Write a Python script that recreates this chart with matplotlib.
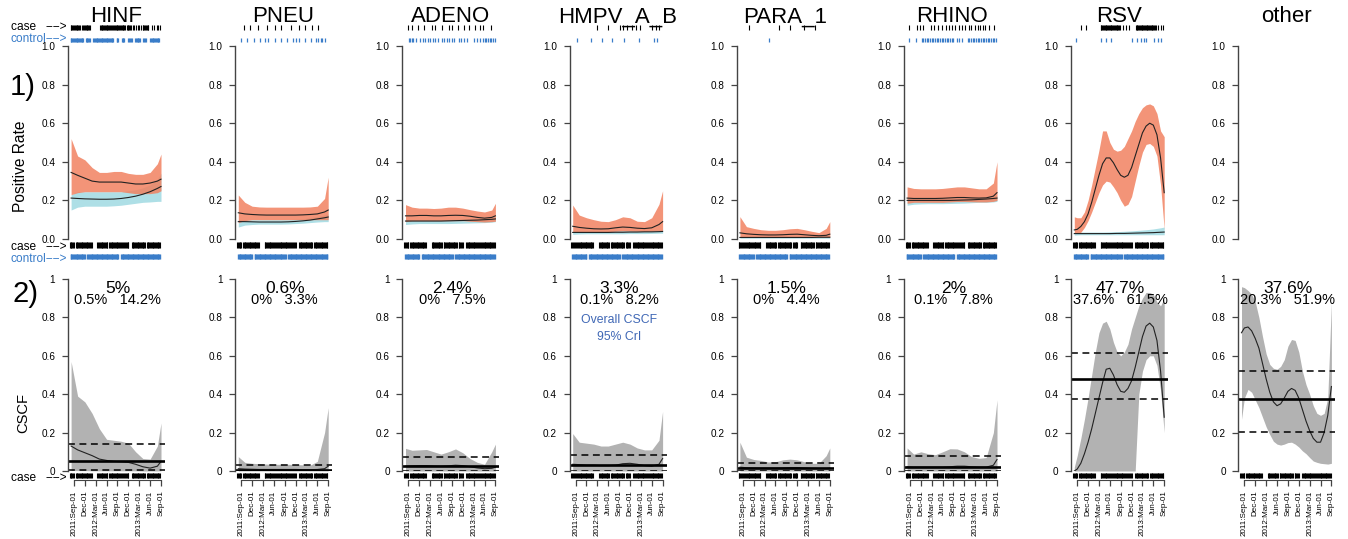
import matplotlib
matplotlib.use("Agg")
import matplotlib.pyplot as plt
from matplotlib.transforms import blended_transform_factory

plt.rcParams['font.family'] = ['Liberation Sans', 'DejaVu Sans']

#----------------------- data -----------------------#

names = ["HINF", "PNEU", "ADENO", "HMPV_A_B", "PARA_1", "RHINO", "RSV", "other"]

# months since 2011-Sep-01 (coarse grid, and a monthly grid for the wavy panels)
T = [-0.8, 1, 3, 5, 7, 9, 11, 13, 15, 17, 19, 21, 23, 24]
T_fine = [-0.8, 0, 1, 2, 3, 4, 5, 6, 7, 8, 9, 10, 11, 12, 13, 14, 15, 16, 17, 18, 19, 20, 21, 22, 23, 24]

date_ticks = [0, 3, 6, 9, 12, 15, 18, 21, 24]
date_labels = ["2011:Sep-01", "Dec-01", "2012:Mar-01", "Jun-01", "Sep-01",
               "Dec-01", "2013:Mar-01", "Jun-01", "Sep-01"]

# positive rate, cases
case_mid = {
    "HINF": [0.345, 0.33, 0.315, 0.30, 0.295, 0.295, 0.295, 0.295, 0.29, 0.285, 0.285, 0.29, 0.30, 0.31],
    "PNEU": [0.136, 0.13, 0.127, 0.125, 0.124, 0.124, 0.124, 0.124, 0.124, 0.125, 0.127, 0.13, 0.14, 0.15],
    "ADENO": [0.12, 0.12, 0.122, 0.122, 0.12, 0.12, 0.122, 0.123, 0.122, 0.118, 0.112, 0.108, 0.112, 0.12],
    "HMPV_A_B": [0.066, 0.06, 0.056, 0.053, 0.052, 0.053, 0.058, 0.062, 0.06, 0.056, 0.054, 0.058, 0.075, 0.09],
    "PARA_1": [0.032, 0.027, 0.024, 0.022, 0.021, 0.021, 0.022, 0.024, 0.025, 0.022, 0.019, 0.017, 0.019, 0.025],
    "RHINO": [0.212, 0.21, 0.21, 0.21, 0.21, 0.211, 0.213, 0.215, 0.215, 0.213, 0.212, 0.213, 0.222, 0.24],
    "RSV": [0.047, 0.05, 0.065, 0.09, 0.13, 0.19, 0.26, 0.33, 0.39, 0.42, 0.42, 0.395, 0.36,
            0.33, 0.32, 0.33, 0.37, 0.43, 0.49, 0.55, 0.585, 0.6, 0.59, 0.54, 0.42, 0.24],
}
case_lo = {
    "HINF": [0.23, 0.24, 0.245, 0.245, 0.245, 0.245, 0.245, 0.245, 0.24, 0.235, 0.235, 0.235, 0.24, 0.25],
    "PNEU": [0.085, 0.095, 0.1, 0.1, 0.1, 0.1, 0.1, 0.1, 0.1, 0.1, 0.1, 0.1, 0.1, 0.1],
    "ADENO": [0.09, 0.095, 0.095, 0.095, 0.095, 0.095, 0.095, 0.095, 0.095, 0.092, 0.09, 0.088, 0.09, 0.092],
    "HMPV_A_B": [0.035, 0.038, 0.038, 0.038, 0.038, 0.038, 0.04, 0.042, 0.041, 0.04, 0.039, 0.04, 0.043, 0.045],
    "PARA_1": [0.01, 0.012, 0.012, 0.012, 0.012, 0.012, 0.012, 0.013, 0.013, 0.012, 0.011, 0.01, 0.01, 0.01],
    "RHINO": [0.185, 0.19, 0.19, 0.19, 0.19, 0.19, 0.192, 0.194, 0.194, 0.193, 0.192, 0.192, 0.195, 0.2],
    "RSV": [0.03, 0.03, 0.035, 0.06, 0.095, 0.14, 0.19, 0.24, 0.28, 0.3, 0.295, 0.27, 0.24,
            0.2, 0.17, 0.18, 0.22, 0.3, 0.38, 0.45, 0.49, 0.495, 0.48, 0.43, 0.28, 0.05],
}
case_hi = {
    "HINF": [0.52, 0.43, 0.41, 0.37, 0.345, 0.345, 0.35, 0.35, 0.34, 0.335, 0.335, 0.345, 0.39, 0.44],
    "PNEU": [0.228, 0.19, 0.17, 0.166, 0.165, 0.165, 0.165, 0.165, 0.165, 0.165, 0.166, 0.17, 0.21, 0.32],
    "ADENO": [0.178, 0.165, 0.16, 0.16, 0.158, 0.16, 0.165, 0.165, 0.16, 0.152, 0.145, 0.14, 0.15, 0.185],
    "HMPV_A_B": [0.176, 0.124, 0.11, 0.1, 0.092, 0.09, 0.1, 0.115, 0.11, 0.092, 0.09, 0.11, 0.18, 0.25],
    "PARA_1": [0.116, 0.064, 0.055, 0.048, 0.045, 0.045, 0.048, 0.053, 0.055, 0.048, 0.04, 0.033, 0.055, 0.09],
    "RHINO": [0.27, 0.262, 0.26, 0.26, 0.26, 0.262, 0.266, 0.27, 0.27, 0.265, 0.26, 0.26, 0.29, 0.4],
    "RSV": [0.115, 0.11, 0.11, 0.14, 0.2, 0.28, 0.37, 0.46, 0.56, 0.56, 0.5, 0.465, 0.455,
            0.46, 0.48, 0.52, 0.56, 0.61, 0.65, 0.68, 0.695, 0.7, 0.69, 0.65, 0.56, 0.53],
}

# positive rate, controls
ctrl_mid = {
    "HINF": [0.212, 0.21, 0.208, 0.207, 0.206, 0.206, 0.207, 0.21, 0.215, 0.222, 0.232, 0.245, 0.262, 0.272],
    "PNEU": [0.09, 0.09, 0.089, 0.088, 0.088, 0.088, 0.088, 0.089, 0.091, 0.094, 0.098, 0.104, 0.11, 0.114],
    "ADENO": [0.093, 0.093, 0.093, 0.093, 0.093, 0.093, 0.094, 0.095, 0.096, 0.097, 0.098, 0.1, 0.102, 0.104],
    "HMPV_A_B": [0.034, 0.034, 0.034, 0.034, 0.034, 0.034, 0.035, 0.035, 0.036, 0.036, 0.037, 0.037, 0.038, 0.039],
    "PARA_1": [0.008, 0.008, 0.008, 0.008, 0.008, 0.008, 0.008, 0.008, 0.008, 0.008, 0.008, 0.009, 0.009, 0.009],
    "RHINO": [0.2, 0.2, 0.2, 0.2, 0.2, 0.2, 0.2, 0.201, 0.202, 0.203, 0.205, 0.207, 0.21, 0.212],
    "RSV": [0.028, 0.028, 0.028, 0.028, 0.028, 0.028, 0.029, 0.029, 0.03, 0.031, 0.032, 0.033, 0.035, 0.036],
}
ctrl_lo = {
    "HINF": [0.15, 0.165, 0.17, 0.17, 0.17, 0.17, 0.172, 0.175, 0.18, 0.185, 0.19, 0.192, 0.195, 0.195],
    "PNEU": [0.062, 0.072, 0.075, 0.077, 0.077, 0.077, 0.077, 0.078, 0.08, 0.082, 0.085, 0.088, 0.09, 0.09],
    "ADENO": [0.075, 0.078, 0.08, 0.08, 0.08, 0.08, 0.08, 0.081, 0.082, 0.083, 0.084, 0.085, 0.087, 0.09],
    "HMPV_A_B": [0.024, 0.026, 0.027, 0.027, 0.027, 0.027, 0.027, 0.027, 0.028, 0.028, 0.028, 0.029, 0.03, 0.03],
    "PARA_1": [0.004, 0.004, 0.004, 0.004, 0.004, 0.004, 0.004, 0.004, 0.004, 0.004, 0.004, 0.004, 0.004, 0.004],
    "RHINO": [0.175, 0.18, 0.182, 0.183, 0.183, 0.183, 0.184, 0.185, 0.186, 0.188, 0.19, 0.19, 0.192, 0.195],
    "RSV": [0.02, 0.022, 0.022, 0.022, 0.022, 0.022, 0.022, 0.022, 0.022, 0.022, 0.022, 0.022, 0.022, 0.022],
}
ctrl_hi = {
    "HINF": [0.23, 0.245, 0.245, 0.245, 0.245, 0.245, 0.245, 0.245, 0.25, 0.255, 0.265, 0.28, 0.31, 0.34],
    "PNEU": [0.1, 0.1, 0.1, 0.1, 0.1, 0.1, 0.1, 0.1, 0.102, 0.105, 0.11, 0.117, 0.125, 0.13],
    "ADENO": [0.1, 0.1, 0.1, 0.1, 0.1, 0.1, 0.1, 0.102, 0.104, 0.106, 0.108, 0.11, 0.112, 0.115],
    "HMPV_A_B": [0.044, 0.043, 0.043, 0.043, 0.043, 0.043, 0.043, 0.044, 0.044, 0.045, 0.046, 0.047, 0.048, 0.05],
    "PARA_1": [0.013, 0.013, 0.013, 0.013, 0.013, 0.013, 0.013, 0.013, 0.013, 0.014, 0.014, 0.015, 0.016, 0.017],
    "RHINO": [0.21, 0.21, 0.21, 0.21, 0.21, 0.21, 0.21, 0.211, 0.212, 0.214, 0.216, 0.218, 0.222, 0.225],
    "RSV": [0.035, 0.036, 0.036, 0.036, 0.036, 0.037, 0.038, 0.04, 0.042, 0.045, 0.048, 0.052, 0.058, 0.062],
}

# case-specific causal fraction over time
cscf_mid = {
    "HINF": [0.13, 0.11, 0.095, 0.08, 0.062, 0.055, 0.05, 0.048, 0.045, 0.035, 0.022, 0.015, 0.025, 0.05],
    "PNEU": [0.012, 0.01, 0.009, 0.008, 0.008, 0.008, 0.008, 0.008, 0.008, 0.007, 0.007, 0.008, 0.012, 0.025],
    "ADENO": [0.025, 0.027, 0.028, 0.028, 0.026, 0.025, 0.027, 0.03, 0.028, 0.022, 0.016, 0.012, 0.014, 0.02],
    "HMPV_A_B": [0.035, 0.033, 0.03, 0.03, 0.028, 0.028, 0.03, 0.038, 0.04, 0.035, 0.028, 0.025, 0.035, 0.065],
    "PARA_1": [0.02, 0.017, 0.016, 0.015, 0.015, 0.015, 0.016, 0.018, 0.018, 0.016, 0.014, 0.013, 0.013, 0.015],
    "RHINO": [0.022, 0.02, 0.02, 0.02, 0.02, 0.02, 0.022, 0.025, 0.025, 0.022, 0.02, 0.02, 0.03, 0.06],
    "RSV": [0.0, 0.01, 0.04, 0.09, 0.15, 0.22, 0.3, 0.38, 0.46, 0.53, 0.535, 0.5, 0.45,
            0.415, 0.41, 0.43, 0.47, 0.54, 0.62, 0.7, 0.755, 0.77, 0.75, 0.68, 0.52, 0.28],
    "other": [0.72, 0.745, 0.75, 0.73, 0.69, 0.64, 0.56, 0.48, 0.41, 0.36, 0.34, 0.35, 0.38,
              0.415, 0.43, 0.42, 0.38, 0.32, 0.26, 0.21, 0.17, 0.15, 0.15, 0.2, 0.29, 0.44],
}
cscf_lo = {
    "HINF": [0.003, 0.002, 0.002, 0.001, 0.001, 0.001, 0.001, 0.001, 0.001, 0.001, 0.0, 0.0, 0.0, 0.001],
    "PNEU": [0.0, 0.0, 0.0, 0.0, 0.0, 0.0, 0.0, 0.0, 0.0, 0.0, 0.0, 0.0, 0.0, 0.0],
    "ADENO": [0.0, 0.0, 0.0, 0.0, 0.0, 0.0, 0.0, 0.0, 0.0, 0.0, 0.0, 0.0, 0.0, 0.0],
    "HMPV_A_B": [0.0, 0.0, 0.0, 0.0, 0.0, 0.0, 0.0, 0.0, 0.0, 0.0, 0.0, 0.0, 0.0, 0.0],
    "PARA_1": [0.0, 0.0, 0.0, 0.0, 0.0, 0.0, 0.0, 0.0, 0.0, 0.0, 0.0, 0.0, 0.0, 0.0],
    "RHINO": [0.0, 0.0, 0.0, 0.0, 0.0, 0.0, 0.0, 0.0, 0.0, 0.0, 0.0, 0.0, 0.0, 0.0],
    "RSV": [0.0, 0.0, 0.0, 0.0, 0.0, 0.0, 0.0, 0.0, 0.0, 0.0, 0.0, 0.0, 0.0,
            0.0, 0.0, 0.0, 0.0, 0.0, 0.4, 0.52, 0.58, 0.6, 0.6, 0.55, 0.42, 0.2],
    "other": [0.27, 0.38, 0.425, 0.41, 0.37, 0.33, 0.28, 0.23, 0.19, 0.155, 0.14, 0.135, 0.14,
              0.148, 0.15, 0.14, 0.125, 0.105, 0.09, 0.07, 0.052, 0.045, 0.04, 0.038, 0.036, 0.04],
}
cscf_hi = {
    "HINF": [0.57, 0.39, 0.36, 0.30, 0.22, 0.165, 0.16, 0.155, 0.145, 0.1, 0.065, 0.062, 0.13, 0.25],
    "PNEU": [0.075, 0.045, 0.04, 0.038, 0.036, 0.035, 0.035, 0.035, 0.034, 0.032, 0.03, 0.05, 0.2, 0.33],
    "ADENO": [0.118, 0.108, 0.11, 0.112, 0.1, 0.088, 0.1, 0.115, 0.095, 0.065, 0.045, 0.035, 0.1, 0.14],
    "HMPV_A_B": [0.195, 0.15, 0.145, 0.14, 0.13, 0.13, 0.14, 0.15, 0.14, 0.12, 0.11, 0.11, 0.16, 0.31],
    "PARA_1": [0.15, 0.072, 0.06, 0.055, 0.047, 0.048, 0.058, 0.062, 0.058, 0.048, 0.04, 0.04, 0.08, 0.12],
    "RHINO": [0.12, 0.088, 0.1, 0.09, 0.085, 0.1, 0.116, 0.115, 0.1, 0.075, 0.066, 0.07, 0.2, 0.37],
    "RSV": [0.02, 0.08, 0.17, 0.27, 0.38, 0.5, 0.62, 0.72, 0.77, 0.78, 0.74, 0.67, 0.62,
            0.6, 0.62, 0.66, 0.74, 0.8, 0.86, 0.9, 0.93, 0.93, 0.92, 0.88, 0.86, 0.9],
    "other": [0.96, 0.955, 0.94, 0.92, 0.88, 0.8, 0.7, 0.61, 0.555, 0.535, 0.53, 0.545, 0.58,
              0.65, 0.685, 0.68, 0.62, 0.52, 0.45, 0.4, 0.34, 0.3, 0.29, 0.3, 0.38, 0.88],
}

# overall CSCF and 95% CrI
overall_mid = [0.05, 0.006, 0.024, 0.033, 0.015, 0.02, 0.477, 0.376]
overall_lo = [0.005, 0.0, 0.0, 0.001, 0.0, 0.001, 0.376, 0.203]
overall_hi = [0.142, 0.033, 0.075, 0.082, 0.044, 0.078, 0.615, 0.519]


def span(a, b, step=1):
    return list(range(a, b + 1, step))


# sampling weeks (weeks since 2011-Sep-01) for the rugs
case_all_weeks = span(-5, 0) + span(2, 21) + span(28, 40) + span(42, 58) + span(60, 65) + span(69, 85) + span(87, 103)
ctrl_all_weeks = span(-4, 13) + span(16, 53) + span(56, 103)

case_pos_weeks = {
    "HINF": span(-4, 7) + span(10, 19) + span(31, 45) + span(47, 61) + span(63, 68) + span(70, 80, 2) + span(82, 89) + [93, 96, 99, 101, 103],
    "PNEU": [3, 11, 20, 31, 40, 48, 59, 69, 76, 85, 92],
    "ADENO": [0, 4, 12, 19, 28, 32, 40, 49, 52, 59, 66, 73, 80, 85, 89, 99],
    "HMPV_A_B": [25, 39, 53, 57, 62, 67, 72, 77, 91, 96, 100],
    "PARA_1": [7, 43, 57, 73, 86],
    "RHINO": [-1, 8, 12, 16, 25, 29, 34, 38, 43, 47, 50, 54, 58, 62, 66, 70, 73, 78, 81, 84, 87, 90, 95, 101],
    "RSV": [4, 10] + span(28, 51) + [55, 58, 62] + span(70, 94) + [97, 100, 103],
}
ctrl_pos_weeks = {
    "HINF": span(-4, 11) + span(14, 19) + span(23, 47) + span(51, 53) + span(57, 60) + span(65, 69) + span(73, 79) + span(83, 86) + span(91, 102),
    "PNEU": [0, 7, 15, 23, 28, 32, 40, 47, 55, 62, 65, 69, 76, 83, 90, 92, 95, 97, 100],
    "ADENO": [1, 2, 4, 6, 9, 14, 17, 20, 23, 26, 29, 32, 35, 40, 43, 46, 49, 52, 55, 60, 63, 66, 70,
              78, 82, 86, 89, 91, 93, 95, 97, 99, 101, 103],
    "HMPV_A_B": [2, 18, 32, 43, 58, 76, 94, 97],
    "PARA_1": [31],
    "RHINO": [-1, 7] + span(14, 52, 2) + [56, 59, 62] + span(69, 103, 2),
    "RSV": [-2, 28, 34, 40, 66, 72, 76, 80, 82, 92, 96, 100],
}

#----------------------- layout (pixels) -----------------------#

W, H = 1348, 539
fig = plt.figure(figsize=(W / 100, H / 100), dpi=100)

col_x0 = 68
col_step = 167.2
ax_w = 97
top_y, top_h = 46, 193
bot_y, bot_h = 279, 192
xlim = (-1.655, -1.655 + ax_w / 3.625)

case_col = '#F18160'
ctrl_col = '#AEDFE6'
band_gray = '#B2B2B2'
blue = '#3A7DC9'
axis_col = '#444444'


def add_ax(x0, y_top, w, h):
    return fig.add_axes([x0 / W, 1 - (y_top + h) / H, w / W, h / H])


def ftext(x, y, s, **kw):
    fig.text(x / W, 1 - y / H, s, **kw)


def grid(values):
    return T_fine if len(values) == len(T_fine) else T


def rug(ax, weeks, y0, y1, ax_top, ax_h, color, lw):
    tr = blended_transform_factory(ax.transData, ax.transAxes)
    months = [w * 12 / 52 for w in weeks]
    f0 = (ax_top + ax_h - y0) / ax_h
    f1 = (ax_top + ax_h - y1) / ax_h
    ax.vlines(months, f1, f0, transform=tr, colors=color, lw=lw, clip_on=False)


def style_y(ax, labels):
    for s in ['top', 'right', 'bottom']:
        ax.spines[s].set_visible(False)
    ax.spines['left'].set_bounds(0, 1)
    ax.spines['left'].set_color(axis_col)
    ax.spines['left'].set_linewidth(1.0)
    ax.set_ylim(0, 1)
    ax.set_xlim(*xlim)
    ax.set_yticks([0, 0.2, 0.4, 0.6, 0.8, 1.0])
    ax.set_yticklabels(labels)
    ax.tick_params(axis='y', length=4.6, width=0.9, color=axis_col, pad=4.5, labelsize=7.2)
    ax.patch.set_alpha(0)


def pct(v):
    return f"{round(v * 100, 1):g}%"


for i, name in enumerate(names):
    x0 = col_x0 + col_step * i

    # ---- 1) positive rate ----
    ax = add_ax(x0, top_y, ax_w, top_h)
    style_y(ax, ["0.0", "0.2", "0.4", "0.6", "0.8", "1.0"])
    ax.set_xticks([])
    if name in case_mid:
        ax.fill_between(grid(ctrl_lo[name]), ctrl_lo[name], ctrl_hi[name], color=ctrl_col, lw=0)
        ax.fill_between(grid(case_lo[name]), case_lo[name], case_hi[name], color=case_col, alpha=0.85, lw=0)
        ax.plot(grid(case_mid[name]), case_mid[name], color='#222222', lw=0.8)
        ax.plot(grid(ctrl_mid[name]), ctrl_mid[name], color='#222222', lw=0.8)
        rug(ax, case_pos_weeks[name], 25, 30.5, top_y, top_h, 'black', 0.8)
        rug(ax, ctrl_pos_weeks[name], 37.5, 42, top_y, top_h, blue, 0.9)
        rug(ax, case_all_weeks, 242, 247.5, top_y, top_h, 'black', 0.8)
        rug(ax, ctrl_all_weeks, 254, 259, top_y, top_h, blue, 1.0)

    # ---- 2) CSCF ----
    bx = add_ax(x0, bot_y, ax_w, bot_h)
    style_y(bx, ["0", "0.2", "0.4", "0.6", "0.8", "1"])
    bx.fill_between(grid(cscf_lo[name]), cscf_lo[name], cscf_hi[name], color=band_gray, lw=0)
    bx.plot(grid(cscf_mid[name]), cscf_mid[name], color='#222222', lw=0.8)
    bx.axhline(overall_mid[i], color='black', lw=1.9)
    bx.axhline(overall_lo[i], color='black', lw=1.1, dashes=(4.5, 3))
    bx.axhline(overall_hi[i], color='black', lw=1.1, dashes=(4.5, 3))
    rug(bx, case_all_weeks, 473, 478, bot_y, bot_h, 'black', 0.8)

    bx.spines['bottom'].set_visible(True)
    bx.spines['bottom'].set_position(('outward', 6.5))
    bx.spines['bottom'].set_bounds(0, 24)
    bx.spines['bottom'].set_color(axis_col)
    bx.set_xticks(date_ticks)
    bx.set_xticklabels(date_labels)
    bx.tick_params(axis='x', length=4.5, width=0.9, color=axis_col, pad=3,
                   labelsize=5.8, labelrotation=90)

    bx.text(12, 0.925, pct(overall_mid[i]), ha='center', va='baseline', fontsize=12.5)
    bx.text(12, 0.87, pct(overall_lo[i]) + "   " + pct(overall_hi[i]),
            ha='center', va='baseline', fontsize=10.5)
    if name == "HMPV_A_B":
        bx.text(12, 0.771, "Overall CSCF", ha='center', va='baseline', fontsize=8.8, color='#3F67B5')
        bx.text(12, 0.682, "95% CrI", ha='center', va='baseline', fontsize=8.8, color='#3F67B5')

    # title
    ftext(x0 + 48, 22.5, name, ha='center', va='baseline', fontsize=16)

#----------------------- left margin labels -----------------------#

ftext(67, 30, "case   \u2212\u2212>", ha='right', va='baseline', fontsize=8.6)
ftext(67, 42, "control\u2212\u2212>", ha='right', va='baseline', fontsize=8.6, color=blue)
ftext(67, 250.5, "case   \u2212\u2212>", ha='right', va='baseline', fontsize=8.6)
ftext(67, 262, "control\u2212\u2212>", ha='right', va='baseline', fontsize=8.6, color=blue)
ftext(67, 481, "case   \u2212\u2212>", ha='right', va='baseline', fontsize=8.6)

ftext(10, 95, "1)", ha='left', va='baseline', fontsize=21)
ftext(12, 302.5, "2)", ha='left', va='baseline', fontsize=21)
ftext(21, 166, "Positive Rate", ha='center', va='center', rotation=90, fontsize=11.2)
ftext(23, 413, "CSCF", ha='center', va='center', rotation=90, fontsize=10.6)

fig.savefig("out.png", dpi=100)
